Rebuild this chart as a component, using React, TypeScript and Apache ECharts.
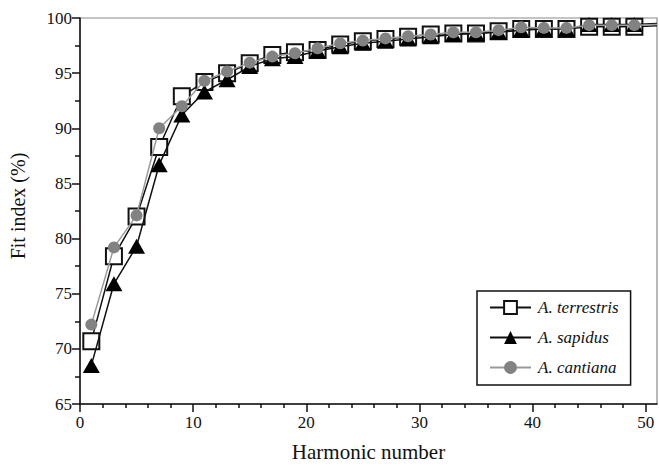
import React, { useEffect, useRef } from "react";
import * as echarts from "echarts";

// Harmonic numbers (odd harmonics) and fit index values per species
const harmonics = [1, 3, 5, 7, 9, 11, 13, 15, 17, 19, 21, 23, 25, 27, 29, 31, 33, 35, 37, 39, 41, 43, 45, 47, 49, 51];

const terrestris = [70.7, 78.4, 82.0, 88.3, 92.9, 94.2, 95.0, 95.9, 96.65, 96.9, 97.1, 97.6, 97.9, 98.1, 98.3, 98.5, 98.6, 98.6, 98.8, 99.0, 99.0, 99.0, 99.2, 99.2, 99.2, 99.3];
const sapidus = [68.5, 75.9, 79.3, 86.7, 91.2, 93.3, 94.4, 95.6, 96.3, 96.5, 97.0, 97.4, 97.7, 97.9, 98.1, 98.3, 98.5, 98.6, 98.7, 98.9, 99.0, 99.0, 99.4, 99.4, 99.4, 99.5];
const cantiana = [72.2, 79.2, 82.1, 90.0, 92.0, 94.3, 95.15, 95.95, 96.5, 96.8, 97.25, 97.7, 97.95, 98.15, 98.35, 98.5, 98.7, 98.7, 98.9, 99.15, 99.1, 99.1, 99.35, 99.35, 99.35, 99.4];

const xMajorTicks = [0, 10, 20, 30, 40, 50];
const xMinorTicks = [2, 4, 6, 8, 12, 14, 16, 18, 22, 24, 26, 28, 32, 34, 36, 38, 42, 44, 46, 48];

const seriesNames = ["A. terrestris", "A. sapidus", "A. cantiana"];

const SERIF = "Liberation Serif";

function pairs(values: number[]) {
  // last harmonic lies past the visible range: keep the line, hide its marker
  return values.map((v, i) =>
    i === values.length - 1
      ? { value: [harmonics[i], v], symbol: "none" }
      : { value: [harmonics[i], v] }
  );
}

export default function App() {
  const ref = useRef<HTMLDivElement>(null);

  useEffect(() => {
    if (!ref.current) return;
    const chart = echarts.init(ref.current, null, { renderer: "svg" });

    const tickLabel = { color: "#111", fontFamily: SERIF, fontSize: 17 };

    chart.setOption({
      animation: false,
      backgroundColor: "#fff",
      textStyle: { fontFamily: SERIF },
      grid: {
        left: 79,
        right: 2,
        top: 18,
        bottom: 62,
        show: true,
        borderColor: "#8a8a8a",
        borderWidth: 1.2,
      },
      legend: {
        orient: "vertical",
        left: 477,
        top: 291,
        width: 166,
        padding: [8, 12, 9, 12],
        itemGap: 13,
        itemWidth: 41,
        itemHeight: 16,
        borderColor: "#111",
        borderWidth: 1.5,
        backgroundColor: "#fff",
        textStyle: {
          fontFamily: SERIF,
          fontStyle: "italic",
          fontSize: 17,
          color: "#111",
          padding: [0, 0, 0, 2],
        },
        data: seriesNames,
      },
      xAxis: [
        {
          type: "value",
          min: 0,
          max: 51,
          interval: 10,
          position: "bottom",
          name: "Harmonic number",
          nameLocation: "middle",
          nameGap: 37,
          nameTextStyle: { fontFamily: SERIF, fontSize: 21, color: "#111" },
          axisLine: { show: true, onZero: false, lineStyle: { color: "#111", width: 1.5 } },
          axisTick: {
            show: true,
            inside: false,
            length: 8,
            customValues: xMajorTicks,
            lineStyle: { color: "#111", width: 1.5 },
          },
          axisLabel: { ...tickLabel, margin: 10, customValues: xMajorTicks },
          splitLine: { show: false },
        },
        {
          type: "value",
          min: 0,
          max: 51,
          position: "bottom",
          axisLine: { show: false },
          axisTick: {
            show: true,
            length: 4,
            customValues: xMinorTicks,
            lineStyle: { color: "#111", width: 1.5 },
          },
          axisLabel: { show: false, customValues: xMinorTicks },
          splitLine: { show: false },
        },
      ],
      yAxis: {
        type: "value",
        min: 65,
        max: 100,
        interval: 5,
        name: "Fit index (%)",
        nameLocation: "middle",
        nameGap: 52,
        nameTextStyle: { fontFamily: SERIF, fontSize: 20, color: "#111", padding: [0, 0, 0, 10] },
        axisLine: { show: true, onZero: false, lineStyle: { color: "#111", width: 1.5 } },
        axisTick: { show: true, length: 8, lineStyle: { color: "#111", width: 1.5 } },
        minorTick: { show: true, splitNumber: 2, length: 5, lineStyle: { color: "#111", width: 1.5 } },
        axisLabel: { ...tickLabel, margin: 8 },
        splitLine: { show: false },
      },
      series: [
        {
          name: seriesNames[0],
          type: "line",
          data: pairs(terrestris),
          symbol: "rect",
          symbolSize: 16,
          itemStyle: { color: "#fff", borderColor: "#111", borderWidth: 2 },
          lineStyle: { color: "#111", width: 1.5 },
          z: 2,
        },
        {
          name: seriesNames[1],
          type: "line",
          data: pairs(sapidus),
          symbol: "triangle",
          symbolSize: [17, 15],
          itemStyle: { color: "#000", borderColor: "#000", borderWidth: 0 },
          lineStyle: { color: "#111", width: 1.5 },
          z: 3,
        },
        {
          name: seriesNames[2],
          type: "line",
          data: pairs(cantiana),
          symbol: "circle",
          symbolSize: 12,
          itemStyle: { color: "#828282", borderWidth: 0 },
          lineStyle: { color: "#9a9a9a", width: 1.5 },
          z: 4,
        },
      ],
    });

    return () => chart.dispose();
  }, []);

  return (
    <div
      ref={ref}
      style={{ position: "fixed", left: 0, top: 0, width: 659, height: 467 }}
    />
  );
}
